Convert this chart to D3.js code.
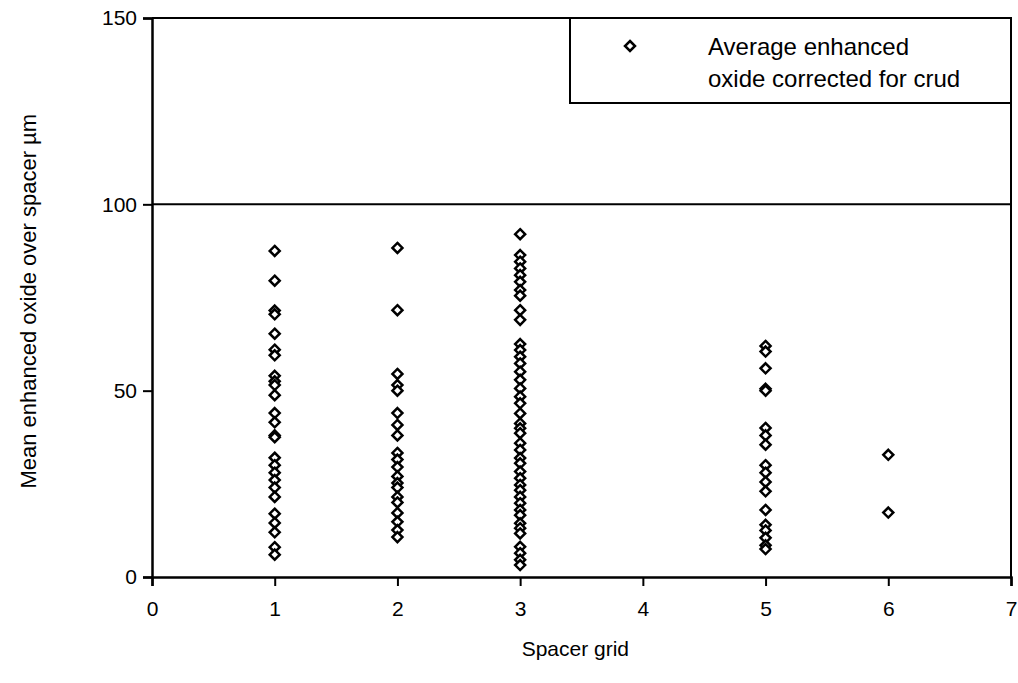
<!DOCTYPE html>
<html>
<head>
<meta charset="utf-8">
<script src="https://cdn.jsdelivr.net/npm/d3@7"></script>
<style>
  body { margin: 0; background: #fff; }
  text { font-family: "Liberation Sans", Arial, sans-serif; fill: #000; }
</style>
</head>
<body>
<div id="Area"></div>
<script>
// data
var grids = [1, 2, 3, 5, 6];
var grid1 = [87.5, 79.5, 71.5, 70.5, 65.3, 61, 59.5, 54, 52.5, 51.5, 48.8, 44, 41.5, 38, 37.5, 32, 30, 28, 26, 24, 21.5, 17, 14.5, 12, 8, 6];
var grid2 = [88.3, 71.6, 54.5, 51.5, 50, 44, 40.8, 38, 33.3, 31.5, 29.5, 27, 25.2, 24, 21.5, 20, 17.2, 14.8, 12.6, 10.7];
var grid3 = [92, 86.4, 84.6, 82.8, 81, 79.2, 77, 75.5, 71.6, 69, 62.5, 60.9, 59.1, 57.3, 55.1, 52.9, 50.6, 48.4, 46.6,
             43.9, 41.2, 39.9, 38.6, 35.9, 34.1, 31.9, 30.5, 28.3, 26.5, 24.7, 23.3, 21.5, 19.8, 18, 16.6, 14.4, 13.1, 11.7,
             8.1, 6.4, 4.6, 3.2];
var grid5 = [62, 60.5, 56, 50.5, 50, 40, 38, 35.5, 30, 28, 25.5, 23, 18, 14, 12.5, 10.5, 8.5, 7.5];
var grid6 = [32.8, 17.3];
var xTicks = [0, 1, 2, 3, 4, 5, 6, 7];
var yTicks = [0, 50, 100, 150];

var series = [grid1, grid2, grid3, grid5, grid6];
var points = [];
series.forEach(function(vals, i) {
  vals.forEach(function(v) { points.push({ x: grids[i], y: v }); });
});

var margin = {top: 18, right: 7, bottom: 106, left: 152},
    width = 1018 - margin.left - margin.right,
    height = 683 - margin.top - margin.bottom;

var svg = d3.select("#Area")
  .append("svg")
    .attr("width", 1018)
    .attr("height", 683)
  .append("g")
    .attr("transform", "translate(" + margin.left + "," + margin.top + ")");

var x = d3.scaleLinear().domain([0, 7]).range([0, width]);
var y = d3.scaleLinear().domain([0, 150]).range([height, 0]);

// frame and the line at 100
svg.append("line")
  .attr("x1", 0).attr("x2", width)
  .attr("y1", y(150)).attr("y2", y(150))
  .attr("stroke", "#000").attr("stroke-width", 2);
svg.append("line")
  .attr("x1", width).attr("x2", width)
  .attr("y1", y(150)).attr("y2", y(0))
  .attr("stroke", "#000").attr("stroke-width", 2);
svg.append("line")
  .attr("x1", 0).attr("x2", width)
  .attr("y1", y(100)).attr("y2", y(100))
  .attr("stroke", "#000").attr("stroke-width", 2);

var xAxis = svg.append("g")
  .attr("transform", "translate(0," + height + ")")
  .call(d3.axisBottom(x).tickValues(xTicks).tickSize(9).tickPadding(15).tickFormat(d3.format("d")));
var yAxis = svg.append("g")
  .call(d3.axisLeft(y).tickValues(yTicks).tickSize(9).tickPadding(6).tickFormat(d3.format("d")));

[xAxis, yAxis].forEach(function(a) {
  a.select(".domain").attr("stroke-width", 2.5);
  a.selectAll(".tick line").attr("stroke-width", 2);
  a.selectAll(".tick text").style("font-size", "21px").attr("fill", "#000");
});

// diamond marker
function diamond(s) {
  return "M0," + (-s) + "L" + s + ",0L0," + s + "L" + (-s) + ",0Z";
}

svg.selectAll(".pt")
  .data(points)
  .enter()
  .append("path")
  .attr("class", "pt")
  .attr("d", diamond(5))
  .attr("transform", function(d) { return "translate(" + x(d.x) + "," + y(d.y) + ")"; })
  .attr("fill", "#fff")
  .attr("stroke", "#000")
  .attr("stroke-width", 2.5);

// legend
var lg = svg.append("g").attr("transform", "translate(" + (570 - margin.left) + ",0)");
lg.append("rect")
  .attr("x", 0).attr("y", 0)
  .attr("width", width - (570 - margin.left)).attr("height", 85)
  .attr("fill", "#fff").attr("stroke", "#000").attr("stroke-width", 2);
lg.append("path")
  .attr("d", diamond(5))
  .attr("transform", "translate(60,28)")
  .attr("fill", "#fff").attr("stroke", "#000").attr("stroke-width", 2.5);
lg.append("text").attr("x", 138).attr("y", 37).style("font-size", "24px").text("Average enhanced");
lg.append("text").attr("x", 138).attr("y", 69).style("font-size", "24px").text("oxide corrected for crud");

// titles
svg.append("text")
  .attr("x", x(3.45)).attr("y", height + 79)
  .attr("text-anchor", "middle")
  .style("font-size", "21px")
  .text("Spacer grid");
svg.append("text")
  .attr("transform", "translate(" + (-116) + "," + y(74) + ") rotate(-90)")
  .attr("text-anchor", "middle")
  .style("font-size", "22px")
  .text("Mean enhanced oxide over spacer µm");
</script>
</body>
</html>
